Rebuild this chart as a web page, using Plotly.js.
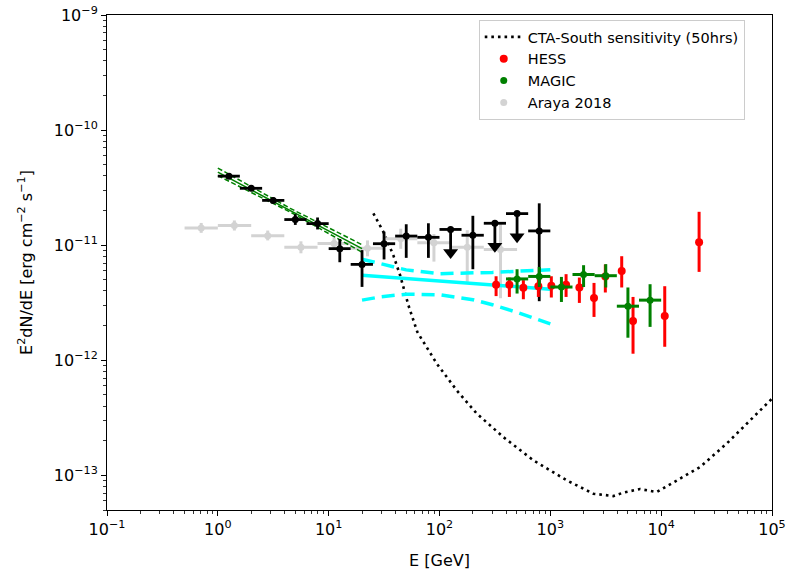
<!DOCTYPE html>
<html><head><meta charset="utf-8">
<script src="https://cdn.plot.ly/plotly-3.0.1.min.js"></script>
<style>html,body{margin:0;padding:0;background:#fff}#chart{width:787px;height:573px}</style>
</head><body><div id="chart"></div>
<script>
// ---- CTA-South sensitivity (50 hrs) ----
const ctaE = [25.3, 31.1, 38.3, 44.1, 52.4, 63.1, 94.4, 143, 217, 377, 703, 1406, 2443, 3704, 4557, 6442, 9120, 13830, 22440, 39050, 63400, 100000];
const ctaF = [1.89e-11, 1.31e-11, 8.19e-12, 5.48e-12, 3.01e-12, 1.76e-12, 9.36e-13, 5.48e-13, 3.44e-13, 2.15e-13, 1.35e-13, 9.05e-14, 6.93e-14, 6.61e-14, 7.08e-14, 7.60e-14, 7.16e-14, 9.05e-14, 1.18e-13, 1.89e-13, 3.01e-13, 4.64e-13];

// ---- Araya 2018 (grey) ----
const greyE   = [0.708, 1.41, 2.82, 5.62, 11.2, 22.4, 44.7, 89.1, 178, 355];
const greyElo = [0.501, 1.0, 2.0, 3.98, 7.94, 15.8, 31.6, 63.1, 126, 251];
const greyEhi = [1.0, 2.0, 3.98, 7.94, 15.8, 31.6, 63.1, 126, 251, 501];
const greyF   = [1.41e-11, 1.48e-11, 1.21e-11, 9.6e-12, 1.035e-11, 9.4e-12, 1.14e-11, 1.05e-11, 9.6e-12, 9.18e-12];
const greyFhi = [1.56e-11, 1.64e-11, 1.34e-11, 1.08e-11, 1.17e-11, 1.10e-11, 1.39e-11, 1.25e-11, 1.35e-11, 1.55e-11];
const greyFlo = [1.28e-11, 1.34e-11, 1.10e-11, 8.5e-12, 9.2e-12, 8.0e-12, 9.3e-12, 7.2e-12, 4.80e-12, 3.46e-12];

// ---- Fermi-LAT points (black) ----
const latE   = [1.26, 2.0, 3.16, 5.0, 7.94, 12.6, 20.0, 31.6, 50.1, 79.4, 126, 200, 316, 501, 794];
const latElo = [1.0, 1.58, 2.51, 3.98, 6.31, 10.0, 15.8, 25.1, 39.8, 63.1, 100, 158, 251, 398, 631];
const latEhi = [1.58, 2.51, 3.98, 6.31, 10.0, 15.8, 25.1, 39.8, 63.1, 100, 158, 251, 398, 631, 1000];
const latF   = [3.98e-11, 3.12e-11, 2.45e-11, 1.67e-11, 1.54e-11, 9.33e-12, 6.81e-12, 1.03e-11, 1.20e-11, 1.17e-11, 1.37e-11, 1.22e-11, 1.55e-11, 1.88e-11, 1.33e-11];
const latFhi = [4.2e-11, 3.3e-11, 2.6e-11, 1.86e-11, 1.74e-11, 1.13e-11, 9.06e-12, 1.31e-11, 1.52e-11, 1.55e-11, 1.37e-11, 1.80e-11, 1.55e-11, 1.88e-11, 2.31e-11];
const latFlo = [3.77e-11, 2.95e-11, 2.32e-11, 1.50e-11, 1.37e-11, 7.11e-12, 4.34e-12, 7.52e-12, 7.76e-12, 7.76e-12, 1.37e-11, 6.18e-12, 1.55e-11, 1.88e-11, 3.26e-12];
const latUL  = [0, 0, 0, 0, 0, 0, 0, 0, 0, 0, 1, 0, 1, 1, 0];

// ---- Fermi-LAT fit butterfly (green) ----
const bflyE  = [1, 4.5, 20];
const bflyF  = [4.31e-11, 2.01e-11, 9.33e-12];
const bflyUp = [4.68e-11, 2.09e-11, 1.01e-11];
const bflyLo = [4.02e-11, 1.94e-11, 8.69e-12];

// ---- fit (cyan) ----
const fitE   = [20, 30, 50, 100, 200, 300, 500, 1000];
const fitF   = [5.48e-12, 5.32e-12, 5.13e-12, 4.87e-12, 4.63e-12, 4.50e-12, 4.34e-12, 4.14e-12];
const fitUp  = [7.55e-12, 6.84e-12, 6.10e-12, 5.65e-12, 5.71e-12, 5.80e-12, 5.94e-12, 6.12e-12];
const fitLo  = [3.33e-12, 3.57e-12, 3.75e-12, 3.71e-12, 3.36e-12, 3.04e-12, 2.61e-12, 2.07e-12];

// ---- HESS (red) ----
const hessE   = [324, 427, 571, 780, 1021, 1387, 1828, 2478, 3135, 4406, 5574, 10770, 21990];
const hessF   = [4.54e-12, 4.54e-12, 4.26e-12, 4.40e-12, 4.45e-12, 4.54e-12, 4.29e-12, 3.48e-12, 5.35e-12, 5.98e-12, 2.19e-12, 2.42e-12, 1.06e-11];
const hessFhi = [5.37e-12, 5.23e-12, 4.97e-12, 5.48e-12, 5.37e-12, 5.60e-12, 5.23e-12, 4.70e-12, 6.79e-12, 8.02e-12, 3.55e-12, 4.40e-12, 1.95e-11];
const hessFlo = [3.61e-12, 3.55e-12, 3.39e-12, 3.55e-12, 3.51e-12, 3.55e-12, 3.15e-12, 2.38e-12, 3.88e-12, 4.29e-12, 1.14e-12, 1.31e-12, 5.86e-12];

// ---- MAGIC (green) ----
const magicE   = [501, 794, 1259, 1995, 3162, 5012, 7943];
const magicElo = [398, 631, 1000, 1585, 2512, 3981, 6310];
const magicEhi = [631, 1000, 1585, 2512, 3981, 6310, 10000];
const magicF   = [5.09e-12, 5.35e-12, 4.33e-12, 5.56e-12, 5.43e-12, 2.95e-12, 3.33e-12];
const magicFhi = [6.18e-12, 6.47e-12, 5.30e-12, 6.70e-12, 6.84e-12, 4.29e-12, 4.58e-12];
const magicFlo = [3.80e-12, 4.33e-12, 3.21e-12, 4.33e-12, 4.29e-12, 1.57e-12, 1.95e-12];

// ---- axis ticks ----
const xTickVals = [0.1, 1, 10, 100, 1000, 10000, 100000];
const xTickText = ['10<sup>\u22121</sup>', '10<sup>0</sup>', '10<sup>1</sup>', '10<sup>2</sup>', '10<sup>3</sup>', '10<sup>4</sup>', '10<sup>5</sup>'];
const yTickVals = [1e-13, 1e-12, 1e-11, 1e-10, 1e-9];
const yTickText = ['10<sup>\u221213</sup>', '10<sup>\u221212</sup>', '10<sup>\u221211</sup>', '10<sup>\u221210</sup>', '10<sup>\u22129</sup>'];

const sub = (a, b) => a.map((v, i) => v - b[i]);
const FONT = 'DejaVu Sans, sans-serif';
const FS = 16;
const ulArrow = 0.63;

const nonUL = latUL.map((u, i) => u ? -1 : i).filter(i => i >= 0);
const isUL  = latUL.map((u, i) => u ? i : -1).filter(i => i >= 0);
const pick = (arr, idx) => idx.map(i => arr[i]);

const traces = [
  {x: ctaE, y: ctaF, mode: 'lines', name: 'CTA-South sensitivity (50hrs)', legendrank: 1,
   line: {color: 'black', width: 2.6, dash: '2.6px,4px'}},
  {x: greyE, y: greyF, mode: 'markers', name: 'Araya 2018', legendrank: 4,
   marker: {color: '#d3d3d3', size: 7},
   error_x: {type: 'data', symmetric: false, array: sub(greyEhi, greyE), arrayminus: sub(greyE, greyElo), color: '#d3d3d3', thickness: 3, width: 0},
   error_y: {type: 'data', symmetric: false, array: sub(greyFhi, greyF), arrayminus: sub(greyF, greyFlo), color: '#d3d3d3', thickness: 3, width: 0}},
  {x: fitE, y: fitUp, mode: 'lines', showlegend: false, line: {color: '#00ffff', width: 3.5, dash: '13px,7px'}},
  {x: fitE, y: fitLo, mode: 'lines', showlegend: false, line: {color: '#00ffff', width: 3.5, dash: '13px,7px'}},
  {x: fitE, y: fitF, mode: 'lines', showlegend: false, line: {color: '#00ffff', width: 3.5}},
  {x: bflyE, y: bflyUp, mode: 'lines', showlegend: false, line: {color: '#008000', width: 1.5, dash: '5px,2.5px'}},
  {x: bflyE, y: bflyLo, mode: 'lines', showlegend: false, line: {color: '#008000', width: 1.5, dash: '5px,2.5px'}},
  {x: bflyE, y: bflyF, mode: 'lines', showlegend: false, line: {color: '#008000', width: 1.5}},
  {x: pick(latE, nonUL), y: pick(latF, nonUL), mode: 'markers', showlegend: false,
   marker: {color: 'black', size: 7},
   error_x: {type: 'data', symmetric: false, array: sub(pick(latEhi, nonUL), pick(latE, nonUL)), arrayminus: sub(pick(latE, nonUL), pick(latElo, nonUL)), color: 'black', thickness: 2.8, width: 0},
   error_y: {type: 'data', symmetric: false, array: sub(pick(latFhi, nonUL), pick(latF, nonUL)), arrayminus: sub(pick(latF, nonUL), pick(latFlo, nonUL)), color: 'black', thickness: 2.8, width: 0}},
  {x: pick(latE, isUL), y: pick(latF, isUL).map(v => v * ulArrow), mode: 'markers', showlegend: false,
   marker: {color: 'black', size: 13, symbol: 'triangle-down'},
   error_y: {type: 'data', symmetric: false, array: pick(latF, isUL).map(v => v * (1 - ulArrow)), arrayminus: pick(latF, isUL).map(() => 0), color: 'black', thickness: 2.8, width: 0}},
  {x: pick(latE, isUL), y: pick(latF, isUL), mode: 'markers', showlegend: false,
   marker: {color: 'black', size: 7},
   error_x: {type: 'data', symmetric: false, array: sub(pick(latEhi, isUL), pick(latE, isUL)), arrayminus: sub(pick(latE, isUL), pick(latElo, isUL)), color: 'black', thickness: 2.8, width: 0}},
  {x: hessE, y: hessF, mode: 'markers', name: 'HESS', legendrank: 2,
   marker: {color: '#ff0000', size: 8},
   error_y: {type: 'data', symmetric: false, array: sub(hessFhi, hessF), arrayminus: sub(hessF, hessFlo), color: '#ff0000', thickness: 3, width: 0}},
  {x: magicE, y: magicF, mode: 'markers', name: 'MAGIC', legendrank: 3,
   marker: {color: '#008000', size: 7},
   error_x: {type: 'data', symmetric: false, array: sub(magicEhi, magicE), arrayminus: sub(magicE, magicElo), color: '#008000', thickness: 3, width: 0},
   error_y: {type: 'data', symmetric: false, array: sub(magicFhi, magicF), arrayminus: sub(magicF, magicFlo), color: '#008000', thickness: 3, width: 0}}
];

const axisCommon = {
  showline: true, mirror: true, linecolor: 'black', linewidth: 1,
  ticks: 'outside', ticklen: 5, tickwidth: 1, tickcolor: 'black',
  showgrid: false, zeroline: false,
  tickfont: {family: FONT, size: FS, color: 'black'},
  minor: {ticks: 'outside', ticklen: 3, tickwidth: 0.8, tickcolor: 'black', showgrid: false, dtick: 'D1'}
};

const layout = {
  width: 787, height: 573,
  margin: {l: 107, r: 15, t: 15, b: 63, pad: 0},
  paper_bgcolor: 'white', plot_bgcolor: 'white',
  font: {family: FONT, size: FS, color: 'black'},
  showlegend: true,
  legend: {x: 0.559, y: 0.99, xanchor: 'left', yanchor: 'top', itemwidth: 38,
           bgcolor: 'rgba(255,255,255,0.8)', bordercolor: '#cccccc', borderwidth: 1,
           font: {family: FONT, size: 14.5, color: 'black'}},
  xaxis: Object.assign({}, axisCommon, {
    type: 'log', range: [-1, 5], tickmode: 'array', tickvals: xTickVals, ticktext: xTickText,
    title: {text: 'E [GeV]', font: {family: FONT, size: FS, color: 'black'}, standoff: 16}
  }),
  yaxis: Object.assign({}, axisCommon, {
    type: 'log', range: [Math.log10(5e-14), -9], tickmode: 'array', tickvals: yTickVals, ticktext: yTickText,
    title: {text: 'E<sup>2</sup>dN/dE [erg cm<sup>\u22122</sup> s<sup>\u22121</sup>]', font: {family: FONT, size: FS, color: 'black'}, standoff: 17}
  })
};

Plotly.newPlot('chart', traces, layout, {displayModeBar: false, staticPlot: true});
</script></body></html>
